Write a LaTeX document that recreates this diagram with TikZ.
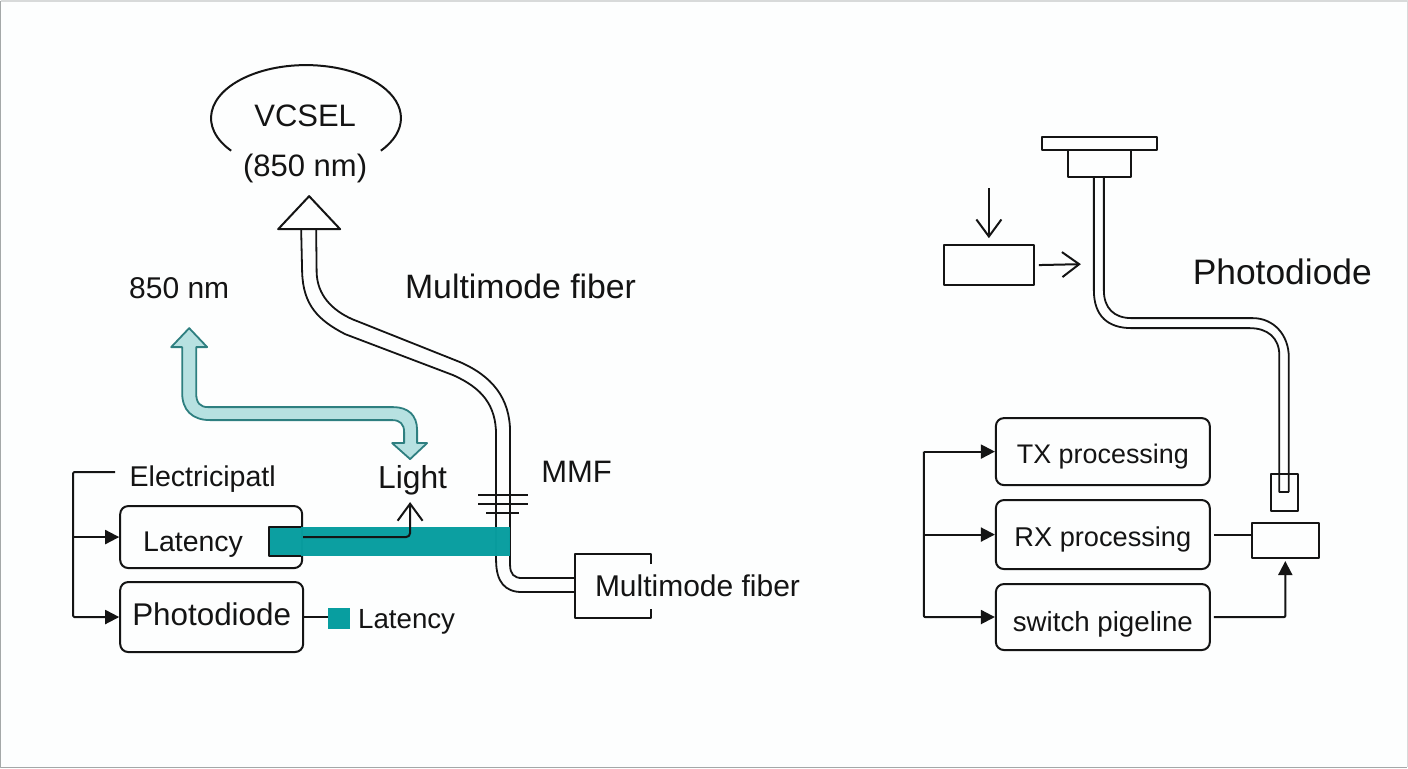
\documentclass[tikz,border=0pt]{standalone}
\usepackage{fontspec}
\setmainfont{Liberation Sans}
\usetikzlibrary{arrows.meta}
\definecolor{ink}{HTML}{141414}
\definecolor{barteal}{HTML}{089EA0}
\definecolor{paleteal}{HTML}{B7E1E1}
\definecolor{edgeteal}{HTML}{2E7F80}
\definecolor{paper}{HTML}{FDFEFE}
\definecolor{frameline}{HTML}{A4A8A8}
\definecolor{framelight}{HTML}{D8DADA}
\newcommand{\fs}[1]{\fontsize{#1}{#1}\selectfont}

\begin{document}
\begin{tikzpicture}[x=1pt, y=-1pt, line join=round]
        \tikzstyle{line}=[draw=ink, line width=2pt]
        \tikzstyle{pipe}=[line, line width=1.8pt]
        \tikzstyle{thin box}=[line, inner sep=0pt, minimum width=0pt]
        \tikzstyle{round box}=[line, rounded corners=8pt, inner sep=0pt, text=ink]
        \tikzstyle{word}=[anchor=base, inner sep=0pt, text=ink]
        \tikzstyle{solid tip}=[line, -{Triangle[length=14pt, width=14pt]}, rounded corners=1pt]
        \tikzstyle{open tip}=[line, -{Straight Barb[length=17pt, width=25pt, line width=2pt]}]

        % background
        \fill[paper] (0,0) rectangle (1408,768);
        \draw[framelight, line width=1.5pt] (0.5,0.5) -- (1407.5,0.5) -- (1407.5,767.5);
        \draw[frameline, line width=1.5pt] (0.5,0.5) -- (0.5,767.5) -- (1407.5,767.5);
        \useasboundingbox (0,0) rectangle (1408,768);

        % left boxes
        \node (latency) [round box, minimum width=182pt, minimum height=62pt, text width=136pt, align=left,
            text height=28pt, text depth=0pt, font=\fs{28.5}] at (211,537) {Latency};
        \node (photodiode) [round box, minimum width=183pt, minimum height=70pt,
            text height=16pt, text depth=0pt, font=\fs{31.4}] at (211.5,617) {Photodiode};

        % labels
        \node (vcsel) [word, font=\fs{31}] at (305,126) {VCSEL};
        \node (vcselnm) [word, font=\fs{31}] at (305,176) {(850 nm)};
        \node (nm) [word, font=\fs{30}] at (179,298) {850 nm};
        \node (mmfname) [word, font=\fs{33.8}] at (520.5,298) {Multimode fiber};
        \node (electric) [word, font=\fs{28.6}] at (202.5,486) {Electricipatl};
        \node (light) [word, font=\fs{31.8}] at (412.5,488) {Light};
        \node (mmf) [word, font=\fs{31}] at (576.5,482) {MMF};
        \node (legend) [word, font=\fs{27.7}] at (406.5,628) {Latency};
        \node (endname) [word, font=\fs{30}] at (697.5,596) {Multimode fiber};
        \node (rightname) [word, font=\fs{35.4}] at (1282.5,284) {Photodiode};

        % VCSEL outline and triangle
        \draw[line] (231,150.5) arc[start angle=142, end angle=398, x radius=95, y radius=53];
        \draw[line] (309,196) -- (340,229) -- (278,229) -- cycle;

        % fiber from the VCSEL
        \draw[pipe] (301,229) -- (302,272) .. controls (303,305) and (318,320) .. (345,334)
            -- (453,375) .. controls (482,388) and (496,405) .. (496,435) -- (496,560)
            .. controls (496,582) and (505,592) .. (522,592) -- (575,592);
        \draw[pipe] (316,229) -- (316.5,272) .. controls (317,295) and (332,310) .. (352,319)
            -- (460,362) .. controls (492,376) and (510,398) .. (510,432) -- (510,565)
            .. controls (510,574) and (514,578) .. (522,578) -- (575,578);
        \draw[pipe] (478,495) -- (528,495);
        \draw[pipe] (478,504) -- (528,504);
        \draw[pipe] (486,513) -- (519,513);

        % teal bar lies over the box edge and the fiber
        \fill[barteal, opacity=0.98] (269,527) rectangle (510,556);
        \fill[barteal] (328,608) rectangle (350,629);
        \draw[line] (301,527) -- (269,527) -- (269,556) -- (301,556);

        % end box
        \draw[line] (651,564) -- (651,554) -- (575,554) -- (575,618) -- (651,618) -- (651,609);

        % wide teal arrow
        \draw[fill=paleteal, draw=edgeteal, line width=1.8pt]
            (189,328) -- (207,347) -- (196,347) -- (196,393)
            .. controls (196,403) and (200,407) .. (208,407) -- (393,407)
            .. controls (408,407) and (417,415) .. (417,430) -- (417,443) -- (427,443)
            -- (410,459) -- (392,443) -- (404,443) -- (404,432)
            .. controls (404,424) and (400,420) .. (392,420) -- (210,420)
            .. controls (192,420) and (182,410) .. (182,393) -- (182,347) -- (171,347) -- cycle;

        % electrical side, left
        \coordinate (railtop) at (115,472);
        \coordinate (railcorner) at (73,472);
        \coordinate (railmid) at (73,537);
        \coordinate (lightfoot) at (410,502);
        \draw[solid tip] (railtop) -- (railcorner) |- (photodiode.west);
        \draw[solid tip] (railmid) -- (latency.west);
        \draw[open tip, rounded corners=4pt] (latency.east) -- (410,537) -- (lightfoot);
        \draw[line] (photodiode.east) -- (328,617);

        % transceiver on the right
        \node (plate) [thin box, minimum width=115pt, minimum height=13pt] at (1099.5,143.5) {};
        \node (block) [thin box, minimum width=63pt, minimum height=27pt] at (1099.5,163.5) {};
        \node (sender) [thin box, minimum width=90pt, minimum height=40pt] at (989,265) {};
        \coordinate (senderin) at (989,188);
        \coordinate (senderout) at (1081,264);
        \draw[open tip] (senderin) -- ([yshift=6pt]sender.north);
        \draw[open tip, shorten <=4pt] (sender.east) -- (senderout);

        \draw[pipe] (1094,177) -- (1094,290) .. controls (1094,316) and (1108,328) .. (1132,328)
            -- (1250,328) .. controls (1268,328) and (1279.5,338) .. (1279.5,355) -- (1279.5,492) -- (1289,492);
        \draw[pipe] (1104,177) -- (1104,290) .. controls (1104,308) and (1114,318) .. (1132,318)
            -- (1253,318) .. controls (1274,318) and (1289,335) .. (1289,357) -- (1289,492);
        \node (socket) [thin box, minimum width=27pt, minimum height=37pt] at (1284.5,492.5) {};

        \node (tx) [round box, minimum width=214pt, minimum height=67pt,
            text height=23pt, text depth=0pt, font=\fs{26.9}] at (1103,451.5) {TX processing};
        \node (rx) [round box, minimum width=214pt, minimum height=69pt,
            text height=24pt, text depth=0pt, font=\fs{27.2}] at (1103,534.5) {RX processing};
        \node (pipeline) [round box, minimum width=214pt, minimum height=66pt,
            text height=29pt, text depth=0pt, font=\fs{27.7}] at (1103,617) {switch pigeline};
        \node (receiver) [thin box, minimum width=67pt, minimum height=35pt] at (1285.5,540.5) {};

        \coordinate (bustop) at (924,451.5);
        \coordinate (busmid) at (924,534.5);
        \draw[solid tip] (bustop) -- (tx.west);
        \draw[solid tip] (tx.west -| bustop) |- (pipeline.west);
        \draw[solid tip] (busmid) -- (rx.west);
        \draw[line, shorten <=3pt] (rx.east) -- (receiver.west |- rx.east);
        \draw[solid tip, shorten <=3pt] (pipeline.east) -| ([yshift=-2pt]receiver.south);
\end{tikzpicture}
\end{document}
